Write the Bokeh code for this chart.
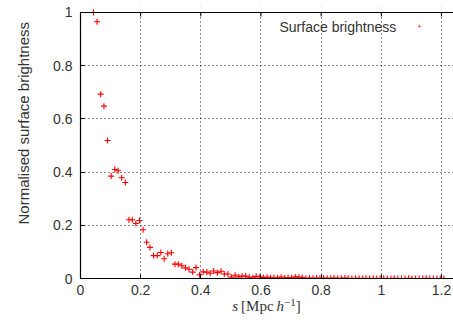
from bokeh.plotting import figure
from bokeh.models import Range1d, FixedTicker, Label, CustomJSTickFormatter, Span, BoxAnnotation, Div
from bokeh.layouts import column
from bokeh.embed import file_html
from bokeh.resources import INLINE

# separation s [Mpc/h]
s_vals = [0.043, 0.055, 0.067, 0.078, 0.090, 0.102, 0.114, 0.125, 0.137, 0.149,
          0.161, 0.172, 0.184, 0.196, 0.208, 0.220, 0.231, 0.243, 0.255, 0.267,
          0.278, 0.290, 0.302, 0.314, 0.325, 0.337, 0.349, 0.361, 0.373, 0.384,
          0.396, 0.408, 0.420, 0.431, 0.443, 0.455, 0.467, 0.478, 0.490, 0.502,
          0.514, 0.526, 0.537, 0.549, 0.561, 0.573, 0.584, 0.596, 0.608, 0.620,
          0.632, 0.643, 0.655, 0.667, 0.679, 0.690, 0.702, 0.714, 0.726, 0.737,
          0.749, 0.761, 0.773, 0.785, 0.796, 0.808, 0.820, 0.832, 0.843, 0.855,
          0.867, 0.879, 0.890, 0.902, 0.914, 0.926, 0.938, 0.949, 0.961, 0.973,
          0.985, 0.996, 1.008, 1.020, 1.032, 1.043, 1.055, 1.067, 1.079, 1.091,
          1.102, 1.114, 1.126, 1.138, 1.149, 1.161, 1.173, 1.185, 1.196, 1.208]

# normalised surface brightness
brightness = [1.000, 0.965, 0.693, 0.648, 0.519, 0.385, 0.410, 0.405, 0.379, 0.361,
              0.221, 0.221, 0.207, 0.218, 0.183, 0.136, 0.117, 0.086, 0.086, 0.098,
              0.074, 0.093, 0.097, 0.054, 0.054, 0.048, 0.040, 0.035, 0.024, 0.041,
              0.014, 0.025, 0.024, 0.020, 0.028, 0.022, 0.027, 0.017, 0.017, 0.005,
              0.012, 0.006, 0.009, 0.009, 0.005, 0.003, 0.008, 0.006, 0.004, 0.005,
              0.003, 0.004, 0.003, 0.005, 0.002, 0.004, 0.003, 0.006, 0.005, 0.004,
              0.001, 0.002, 0.001, 0.002, 0.001, 0.002, 0.001, 0.001, 0.002, 0.001,
              0.001, 0.002, 0.001, 0.000, 0.001, 0.001, 0.000, 0.001, 0.000, 0.001,
              0.000, 0.000, 0.001, 0.000, 0.000, 0.001, 0.000, 0.000, 0.000, 0.001,
              0.000, 0.000, 0.000, 0.000, 0.001, 0.000, 0.000, 0.000, 0.000, 0.000]

x_ticks = [0, 0.2, 0.4, 0.6, 0.8, 1.0, 1.2]
y_ticks = [0, 0.2, 0.4, 0.6, 0.8, 1.0]

FONT = "Liberation Sans"
TXT = "#333333"
Y_TOP = 1.0263  # a little headroom so the point at y=1 is not clipped

p = figure(width=453, height=299, output_backend="svg", toolbar_location=None,
           x_range=Range1d(0, 1.24), y_range=Range1d(0, Y_TOP),
           min_border_left=80, min_border_right=0, min_border_top=5,
           min_border_bottom=21, background_fill_color="white",
           border_fill_color="white")
p.outline_line_color = None

fmt = CustomJSTickFormatter(code="return String(Math.round(tick*10)/10);")

for ax in (p.xaxis[0], p.yaxis[0]):
    ax.major_tick_in = 4
    ax.major_tick_out = 0
    ax.minor_tick_in = 0
    ax.minor_tick_out = 0
    ax.axis_line_color = "black"
    ax.axis_line_width = 1.2
    ax.major_tick_line_color = "black"
    ax.major_label_text_font = FONT
    ax.major_label_text_font_size = "14px"
    ax.major_label_text_color = TXT
    ax.formatter = fmt

p.xaxis[0].ticker = FixedTicker(ticks=x_ticks)
p.yaxis[0].ticker = FixedTicker(ticks=y_ticks)
p.yaxis[0].bounds = (0, 1)
p.xaxis[0].major_label_standoff = 6
p.yaxis[0].major_label_standoff = 8

p.yaxis[0].axis_label = "\u00a0" * 9 + "Normalised surface brightness"
p.yaxis[0].axis_label_text_font = FONT
p.yaxis[0].axis_label_text_font_size = "15px"
p.yaxis[0].axis_label_text_font_style = "normal"
p.yaxis[0].axis_label_text_color = TXT
p.yaxis[0].axis_label_standoff = 18

p.xgrid.ticker = FixedTicker(ticks=x_ticks[1:])
p.ygrid.ticker = FixedTicker(ticks=y_ticks[1:-1])
for g in (p.xgrid[0], p.ygrid[0]):
    g.grid_line_color = "black"
    g.grid_line_dash = "1 3"
    g.grid_line_width = 1
    g.grid_line_alpha = 0.9

# blank out headroom above the top border
p.add_layout(BoxAnnotation(bottom=1, fill_color="white", fill_alpha=1,
                           line_color=None, level="underlay"))
# top border with inward ticks
p.add_layout(Span(location=1, dimension="width", line_color="black", line_width=1.2))
p.segment(x0=x_ticks, y0=[1] * len(x_ticks), x1=x_ticks,
          y1=[1 - 4 * Y_TOP / 273] * len(x_ticks), line_color="black", line_width=1)

p.scatter(s_vals, brightness, marker="cross", size=6, line_color="red", line_width=1.1)

# legend (gnuplot style: text then marker)
p.add_layout(Label(x=199, y=252, x_units="screen", y_units="screen",
                   text="Surface brightness", text_font=FONT, text_font_size="14px",
                   text_color=TXT, text_baseline="middle", text_align="left"))
p.add_layout(Label(x=339, y=252, x_units="screen", y_units="screen",
                   text="+", text_font=FONT, text_font_size="7px",
                   text_color="red", text_baseline="middle", text_align="center"))

xtitle = Div(
    text=('<div style="display:block;width:373px;font-family:\'Liberation Serif\';'
          'font-size:15px;color:#333;line-height:15px;text-align:center;white-space:nowrap;">'
          '<i>s</i>&#8201;[Mpc&#8201;<i>h</i>'
          '<span style="font-size:11px;position:relative;top:-5px;">\u22121</span>]</div>'),
    width=373, height=26, margin=(0, 0, 0, 80))

layout = column(p, xtitle, spacing=0)

open("out.html", "w").write(file_html(layout, INLINE))
